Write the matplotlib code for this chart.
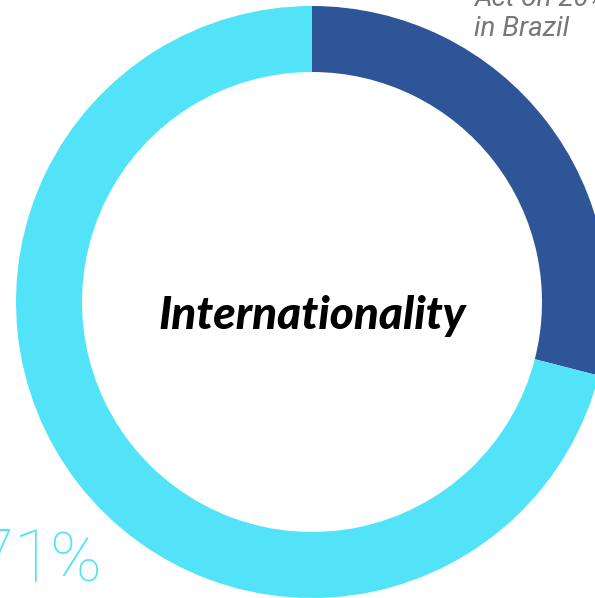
import matplotlib
matplotlib.use("Agg")
import matplotlib.pyplot as plt

labels = ["Brazil", "International"]
shares = [29, 71]
colors = ["#2E5597", "#52E3F9"]

fig = plt.figure(figsize=(5.95, 5.98), dpi=100)
ax = fig.add_axes([0, 0, 1, 1])

# donut drawn in pixel space (y points down), starting at 12 o'clock, clockwise on screen
ax.pie(shares, colors=colors, startangle=-90, counterclock=True,
       center=(312, 302), radius=296, frame=True,
       wedgeprops=dict(width=66, linewidth=0))
ax.set_xlim(0, 595)
ax.set_ylim(598, 0)
ax.set_aspect("equal")
ax.axis("off")

ax.text(312, 316, "Internationality", ha="center", va="center",
        fontsize=33, fontweight=900, style="italic", family="Lato")

ax.text(474, 36, "Act on 20%\nin Brazil", ha="left", va="baseline",
        fontsize=20, style="italic", color="#777777", family="Roboto",
        linespacing=1.2)

# big share label, partly running off the left edge
ax.text(-27, 582, f"{shares[1]}", ha="left", va="baseline",
        fontsize=53, fontweight=100, color=colors[1], family="Roboto")
ax.text(101, 582, "%", ha="right", va="baseline",
        fontsize=50, fontweight=100, color=colors[1], family="Roboto")

fig.savefig("out.png", dpi=100)
